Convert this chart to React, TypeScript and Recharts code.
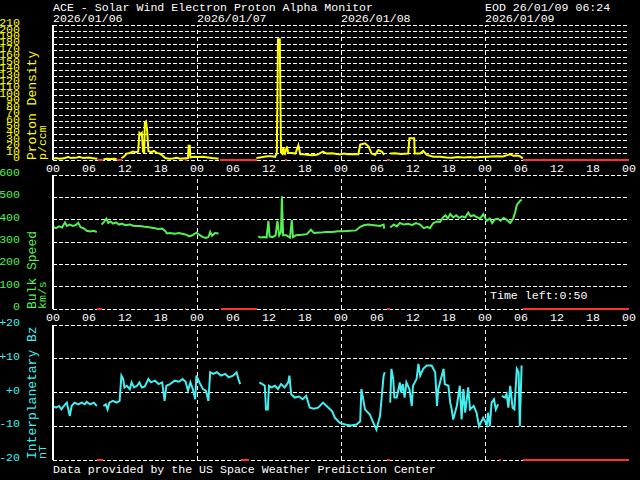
import React from "react";
import { LineChart, Line, XAxis, YAxis, CartesianGrid, ReferenceLine } from "recharts";

// hours since 2026/01/06 00:00 UT
const hourTicks = [0, 6, 12, 18, 24, 30, 36, 42, 48, 54, 60, 66, 72, 78, 84, 90, 96];
const minorTicks = [0, 3, 6, 9, 12, 15, 18, 21, 24, 27, 30, 33, 36, 39, 42, 45, 48, 51, 54, 57, 60, 63, 66, 69, 72, 75, 78, 81, 84, 87, 90, 93, 96];
const dayLines = [24, 48, 72];
const dayLabels = ["2026/01/06", "2026/01/07", "2026/01/08", "2026/01/09"];

const densityTicks = [0, 10, 20, 30, 40, 50, 60, 70, 80, 90, 100, 110, 120, 130, 140, 150, 160, 170, 180, 190, 200, 210];
const speedTicks = [0, 100, 200, 300, 400, 500, 600];
const bzTicks = [-20, -10, 0, 10, 20];

type Pt = [number, number | null];

const density: Pt[] = [
  [0, 2], [0.5, 3], [1, 2], [1.5, 2.5], [2, 3], [2.5, 5], [3, 3], [3.5, 3.5], [4, 4], [4.4, 5], [5, 3], [5.5, 3.5],
  [6, 4], [6.5, 3], [7, 2.5], [7.4, 2], [7.5, null],
  [8.4, 1], [9, 2], [9.6, 1.5], [10.2, 2], [10.6, 1.5], [10.7, null],
  [11.4, 3], [11.8, 5], [12.3, 10], [12.8, 11], [13.3, 13], [13.7, 12], [14.2, 13], [14.4, 42], [14.6, 40],
  [14.8, 42], [15, 13], [15.2, 12], [15.3, 58], [15.5, 60], [15.7, 45], [15.9, 14], [16.3, 12], [16.8, 14],
  [17.3, 11], [17.8, 10], [18.1, 8], [18.7, 3], [19.3, 2], [20, 2.5], [20.6, 3.5], [21.2, 2], [21.7, 2.5],
  [22.5, 3], [22.6, 22], [22.8, 22], [22.9, 4], [23.5, 5], [24.2, 4.5], [25, 5], [25.8, 4], [26.5, 3], [27.3, 2.5], [27.6, 2],
  [27.8, null],
  [33.9, 3], [34.5, 4], [35.2, 5], [35.8, 6], [36.4, 6], [37, 5], [37.3, 10], [37.5, 188], [37.8, 188], [38, 12],
  [38.2, 10], [38.4, 20], [38.6, 8], [39, 21], [39.2, 11], [39.8, 11], [40.4, 10], [40.9, 23], [41.2, 9], [41.8, 9],
  [42.3, 8], [43.2, 7.5], [44, 8], [45, 13], [45.6, 10], [46.5, 10.5], [47.3, 9.5], [47.8, 8.5], [48.5, 10], [49.2, 9],
  [50.2, 9.5], [50.9, 9], [51.2, 24], [51.6, 25], [52, 26], [52.6, 21], [53.1, 10], [53.7, 8], [54.2, 15.5],
  [54.8, 13], [55.2, 8], [55.3, null],
  [56.2, 10], [57, 10.5], [58, 9.5], [59.2, 10], [59.4, 34], [60.2, 34], [60.3, 10], [61.2, 10], [61.7, 14],
  [62.3, 8], [63.4, 5], [64.5, 5], [65.6, 4], [66.5, 3.5], [67.5, 4.5], [68.5, 4], [69.5, 4.5], [70.3, 4], [71.2, 4.5],
  [72.3, 5], [73.2, 5.5], [74, 6], [75, 5.5], [76.2, 9], [76.7, 6.5], [77.3, 7], [77.8, 6], [78.3, 2.5],
];

const speed: Pt[] = [
  [0, 368], [0.5, 362], [1, 370], [1.5, 365], [2, 388], [2.3, 372], [2.8, 378], [3.3, 372], [3.8, 376], [4.2, 386],
  [4.6, 366], [5.2, 360], [5.6, 350], [6.2, 347], [6.8, 350], [7.3, 345], [7.4, null],
  [8.1, 378], [8.5, 390], [8.9, 405], [9.2, 385], [9.6, 392], [10, 382], [10.5, 388], [11, 378], [11.5, 382], [12, 375],
  [12.8, 378], [13.5, 372], [14.5, 372], [15.3, 368], [16, 366], [17, 362], [17.5, 358], [18.2, 360], [18.7, 350],
  [19, 338], [19.5, 340], [20.3, 337], [21, 340], [21.7, 336], [22.3, 332], [22.7, 325], [23.2, 330], [23.9, 342],
  [24.4, 332], [25, 322], [25.5, 318], [25.9, 322], [26.2, 345], [26.5, 328], [27, 340], [27.6, 338], [27.8, null],
  [34.2, 325], [34.6, 320], [35.2, 322], [35.6, 320], [35.9, 395], [36.1, 325], [36.6, 322], [37.1, 330], [37.4, 395],
  [37.7, 330], [38, 345], [38.15, 505], [38.35, 330], [38.9, 330], [39.5, 320], [39.8, 398], [40, 322], [40.5, 330],
  [41.5, 332], [42.3, 335], [43, 355], [43.5, 340], [44.5, 342], [45.5, 345], [46.5, 345], [47.5, 348], [48.5, 348],
  [49.5, 350], [50.5, 352], [51.2, 368], [51.8, 375], [52.5, 378], [53.5, 375], [54.5, 372], [55.1, 378], [55.2, 360],
  [55.3, null],
  [56.2, 365], [56.8, 378], [57.3, 370], [57.8, 385], [58.5, 378], [59.2, 382], [59.8, 375], [60.5, 385], [61.2, 378],
  [61.8, 362], [62.4, 368], [62.8, 362], [63.4, 385], [64, 392], [64.5, 390], [65, 410], [65.4, 420], [65.8, 405],
  [66.2, 425], [66.7, 410], [67.2, 420], [67.7, 408], [68.2, 415], [68.7, 410], [69.2, 432], [69.6, 415], [70.1, 420],
  [70.6, 412], [71.2, 405], [71.7, 425], [72.3, 395], [72.8, 405], [73.2, 385], [73.6, 400], [74.1, 405], [74.6, 395],
  [75.1, 408], [75.6, 400], [76.2, 385], [76.7, 405], [77, 430], [77.3, 465], [77.7, 480], [78.1, 490],
];

const bz: Pt[] = [
  [0, -4], [0.5, -4.5], [1, -4], [1.4, -5], [1.8, -4], [2.3, -3], [2.8, -7], [3.1, -4], [3.6, -3], [4.2, -3.5],
  [4.8, -3], [5.3, -3.5], [5.6, -2.8], [6.2, -3.5], [6.8, -3], [7.3, -4], [7.4, null],
  [8.4, -4], [8.8, -3.5], [9.1, -5], [9.4, -3], [10, -2.5], [10.6, -3], [11.1, -2.5], [11.4, 5], [11.7, 4], [11.9, 1.5],
  [12.3, 2], [12.8, 1], [13.1, 3], [13.5, 1.5], [14, 2], [14.4, 3], [14.8, 1.5], [15.3, 1.8], [15.9, 4], [16.3, 3],
  [17, 3.5], [17.6, 2.5], [18.2, 3], [18.6, -2.5], [18.9, 2], [19.5, 2.5], [20.3, 3.5], [21, 3.2], [21.6, 4], [22.1, 3.2],
  [22.5, 0.5], [22.9, 3], [23.3, 1], [23.7, -2], [23.9, 5], [24.4, 3], [25, 1], [25.5, 0.5], [25.9, -2.5], [26.2, 6],
  [26.7, 5.5], [27.3, 6], [28, 5], [28.7, 5.5], [29.3, 4.5], [30, 5], [30.6, 6], [30.9, 4], [31.2, 2.5], [31.3, null],
  [34.4, 3], [34.9, 2.5], [35.3, 2], [35.5, -5], [35.8, -5], [36, 2], [36.4, 1.5], [37, 2], [37.5, 1], [38, 2.5],
  [38.6, 1.5], [39.2, 3], [39.4, 5], [39.7, -0.5], [40.3, -1.5], [41, -1.2], [41.6, -2], [42.2, -1], [42.8, -4.5],
  [43.5, -4.8], [44.2, -4.5], [45, -3], [45.9, -4.5], [46.5, -5.5], [47, -7.5], [47.8, -9], [48.7, -9.5], [49.6, -9.8],
  [50.6, -9.5], [51.2, -8.5], [51.4, 1], [52, -5], [52.8, -6.5], [53.4, -9], [53.9, -11], [54.5, -7], [55.1, 5],
  [55.3, 6], [55.4, null],
  [56.2, -3], [56.4, 7], [56.7, 4], [56.9, -1.5], [57.3, -1.5], [57.8, 3], [58, 0], [58.3, 2.5], [58.6, -1.5], [58.9, 3],
  [59.4, 1], [59.8, -4], [60, 2], [60.6, 4], [60.9, 8.5], [61.2, 5], [61.7, 7], [62.3, 8], [63.1, 8], [63.7, 6], [64, -4],
  [64.2, 1], [64.8, 5], [65.1, 7], [65.3, 2.5], [65.9, 2], [66.2, -3], [66.4, -4.5], [66.7, -8], [67.3, -4], [67.8, 2],
  [68.1, -8], [68.4, 1], [68.7, -6], [69.2, 1.5], [69.5, -5], [70.1, -4], [70.6, -6], [71, -10], [71.7, -7.5],
  [72.3, -9.5], [72.5, -6], [72.8, -10], [73.1, -3], [73.5, -2], [73.8, -5], [74.2, -3.5], [74.5, null],
  [74.8, -1], [75.3, -1.5], [75.6, -0.5], [75.9, -4.5], [76.2, 2], [76.6, -4.5], [76.9, -5], [77.3, 7], [77.6, 6],
  [77.8, -10], [78.1, 8],
];

// missing-data intervals, marked red on the bottom border
const densityGaps = [[7.5, 8.3], [10.7, 11.5], [22, 22.3], [27.8, 34], [38.7, 39], [55.7, 56.2], [78.3, 96]];
const speedGaps = [[7.3, 8.2], [22, 22.2], [28, 34], [38.6, 38.8], [55.6, 56.2], [78.3, 96]];
const bzGaps = [[7.4, 8.3], [31.4, 32.6], [55.6, 56.2], [74.4, 74.7], [78.3, 96]];

const FONT = "'Liberation Mono', 'DejaVu Sans Mono', monospace";
const YELLOW = "#ffff00";
const GREEN = "#55ee55";
const CYAN = "#44eeee";
const RED = "#ff3030";

const pad = (h: number) => String(h % 24).padStart(2, "0");

type PanelProps = {
  data: Pt[];
  color: string;
  domain: [number, number];
  ticks: number[];
  fmt?: (v: number) => string;
  top: number;
  bottom: number;
  gaps: number[][];
  hours: boolean;
};

function Panel({ data, color, domain, ticks, fmt, top, bottom, gaps, hours }: PanelProps) {
  const rows = data.map(([t, v]) => ({ t, v }));
  const labelH = hours ? 20 : 0;
  return (
    <div style={{ position: "absolute", left: 0, top: 0 }}>
      <LineChart
        width={640}
        height={480}
        data={rows}
        margin={{ top, right: 11, bottom: 480 - bottom - labelH, left: 0 }}
      >
        <CartesianGrid vertical={false} stroke="#ffffff" strokeDasharray="4 2" />
        {dayLines.map((d) => (
          <ReferenceLine key={d} x={d} stroke="#ffffff" strokeDasharray="4 3" />
        ))}
        <XAxis
          dataKey="t"
          type="number"
          domain={[0, 96]}
          ticks={minorTicks}
          interval={0}
          orientation="bottom"
          mirror
          height={0}
          tickSize={4}
          tickFormatter={() => ""}
          axisLine={{ stroke: "#ffffff", strokeWidth: 2 }}
          tickLine={{ stroke: "#ffffff" }}
        />
        <XAxis
          xAxisId="top"
          dataKey="t"
          type="number"
          domain={[0, 96]}
          ticks={minorTicks}
          interval={0}
          orientation="top"
          mirror
          height={0}
          tickSize={4}
          tickFormatter={() => ""}
          axisLine={{ stroke: "#ffffff", strokeWidth: 2 }}
          tickLine={{ stroke: "#ffffff" }}
        />
        {hours && (
          <XAxis
            xAxisId="lab"
            dataKey="t"
            type="number"
            domain={[0, 96]}
            ticks={hourTicks}
            interval={0}
            height={20}
            axisLine={false}
            tickLine={false}
            tickSize={0}
            tickMargin={4}
            tickFormatter={pad}
            tick={{ fill: "#ffffff", fontSize: 11.6, fontFamily: FONT }}
          />
        )}
        <YAxis
          type="number"
          domain={domain}
          ticks={ticks}
          interval={0}
          width={53}
          tickSize={0}
          tickMargin={33}
          tickFormatter={fmt}
          axisLine={{ stroke: "#ffffff", strokeWidth: 2 }}
          tickLine={false}
          tick={{ fill: color, fontSize: 11.6, fontFamily: FONT, dy: -3 }}
        />
        <YAxis
          yAxisId="r"
          orientation="right"
          type="number"
          domain={domain}
          width={0}
          tick={false}
          tickLine={false}
          axisLine={{ stroke: "#ffffff", strokeWidth: 2 }}
        />
        <Line
          dataKey="v"
          stroke={color}
          strokeWidth={2}
          dot={false}
          connectNulls={false}
          isAnimationActive={false}
        />
        {gaps.map(([a, b]) => (
          <ReferenceLine
            key={a}
            segment={[{ x: a, y: domain[0] }, { x: b, y: domain[0] }]}
            stroke={RED}
            strokeWidth={2}
          />
        ))}
      </LineChart>
    </div>
  );
}

const hx = (h: number) => 53 + h * 6;

export default function App() {
  const txt = { fontFamily: FONT, fontSize: 11.6 };
  const ttl = { fontFamily: FONT, fontSize: 13 };
  return (
    <div style={{ position: "fixed", left: 0, top: 0, width: 640, height: 480, background: "#000000", overflow: "hidden" }}>
      <style>{`
        .recharts-cartesian-grid line,
        .recharts-reference-line line,
        .recharts-cartesian-axis line { shape-rendering: crispEdges; }
      `}</style>
      <Panel data={density} color={YELLOW} domain={[0, 210]} ticks={densityTicks} top={25} bottom={160} gaps={densityGaps} hours />
      <Panel data={speed} color={GREEN} domain={[0, 600]} ticks={speedTicks} top={175} bottom={309} gaps={speedGaps} hours />
      <Panel
        data={bz}
        color={CYAN}
        domain={[-20, 20]}
        ticks={bzTicks}
        fmt={(v) => (v > 0 ? "+" + v : v === 0 ? "+0" : String(v))}
        top={325}
        bottom={460}
        gaps={bzGaps}
        hours={false}
      />
      <svg width={640} height={480} style={{ position: "absolute", left: 0, top: 0, pointerEvents: "none" }}>
        <text x={53} y={11} fill="#ffffff" {...txt}>ACE - Solar Wind Electron Proton Alpha Monitor</text>
        <text x={485} y={11} fill="#ffffff" {...txt}>EOD 26/01/09 06:24</text>
        {dayLabels.map((d, i) => (
          <text key={d} x={hx(i * 24)} y={21.5} fill="#ffffff" {...txt}>{d}</text>
        ))}
        <text transform="rotate(-90 36 160)" x={36} y={160} fill={YELLOW} {...ttl}>Proton Density</text>
        <text transform="rotate(-90 46 160)" x={46} y={160} fill={YELLOW} {...txt}>p/ccm</text>
        <text transform="rotate(-90 36 309)" x={36} y={309} fill={GREEN} {...ttl}>Bulk Speed</text>
        <text transform="rotate(-90 46 309)" x={46} y={309} fill={GREEN} {...txt}>km/s</text>
        <text transform="rotate(-90 36 459)" x={36} y={459} fill={CYAN} {...ttl}>Interplanetary Bz</text>
        <text transform="rotate(-90 46 459)" x={46} y={459} fill={CYAN} {...txt}>nT</text>
        <text x={490} y={299} fill="#ffffff" {...txt}>Time left:0:50</text>
        <text x={53} y={473} fill="#ffffff" {...txt}>Data provided by the US Space Weather Prediction Center</text>
      </svg>
    </div>
  );
}
